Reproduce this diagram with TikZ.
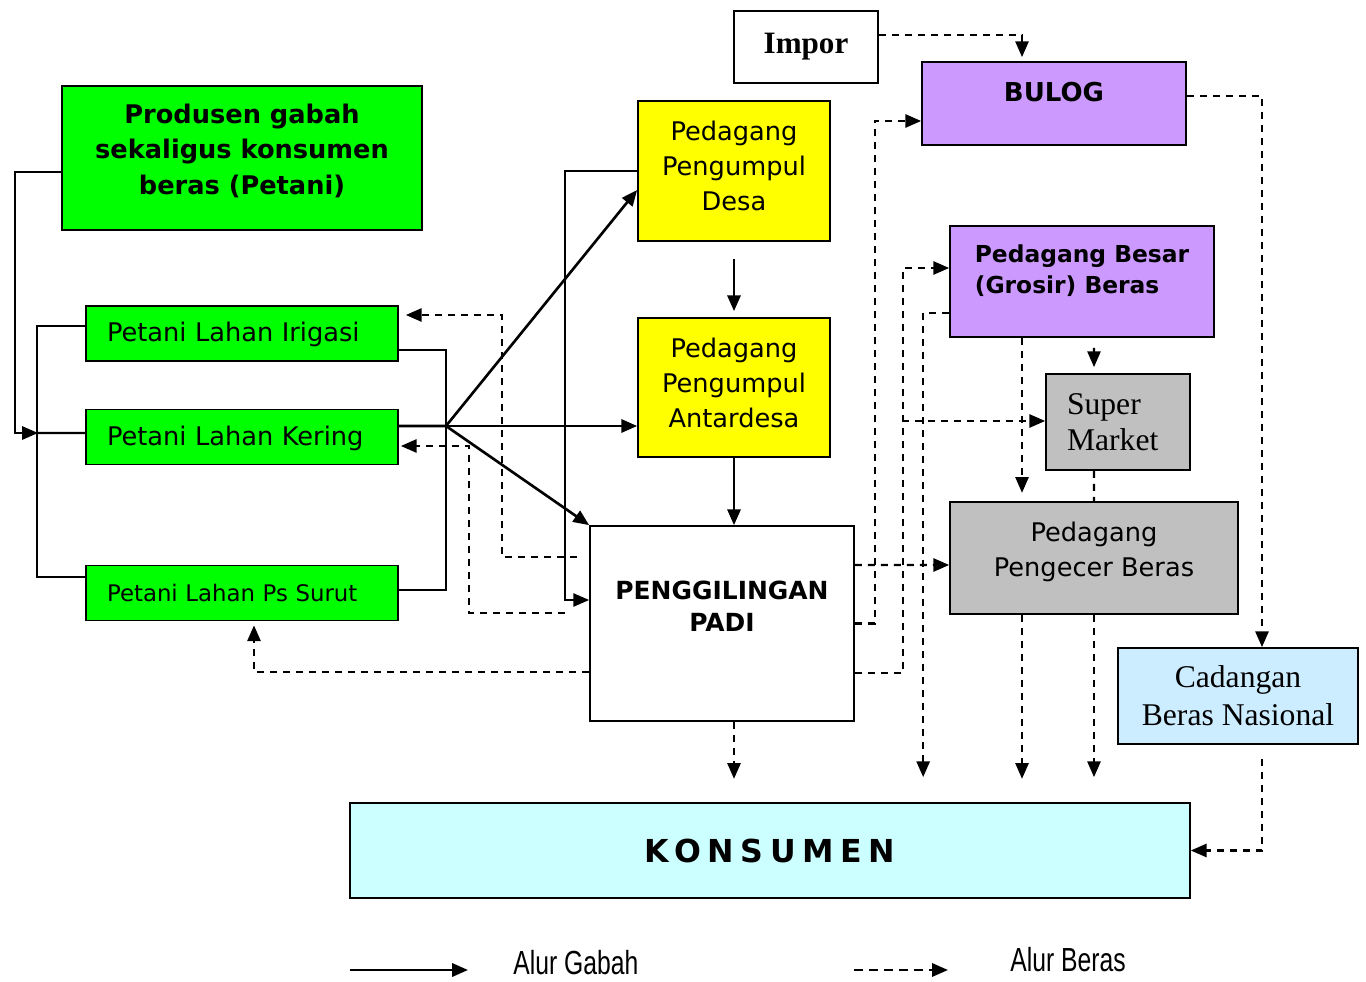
\documentclass[tikz,border=0pt]{standalone}
\usepackage{fontspec}
\setmainfont{DejaVu Sans}
\newfontfamily\timesfont{Liberation Serif}
\newfontfamily\narrowfont[FakeStretch=0.74]{Liberation Sans}
\usetikzlibrary{arrows.meta}

\definecolor{hijau}{HTML}{00FF00}
\definecolor{kuning}{HTML}{FFFF00}
\definecolor{ungu}{HTML}{CC99FF}
\definecolor{abu}{HTML}{C0C0C0}
\definecolor{birumuda}{HTML}{CCECFF}
\definecolor{cyanmuda}{HTML}{CCFFFF}

\begin{document}
\begin{tikzpicture}
[x=0.02cm, y=-0.02cm,
    >={Triangle[length=9pt,width=7.5pt]},
    font=\fontsize{14.6}{20}\selectfont,
    box/.style={rectangle, draw=black, line width=1pt, inner sep=0pt, align=center},
    petani/.style={box, fill=hijau, minimum width=6.24cm, minimum height=1.1cm,
        text width=5.4cm, inner xsep=0.42cm, align=left, text height=13pt, text depth=3.4pt},
    pedagang/.style={box, fill=kuning, minimum width=3.84cm, minimum height=2.8cm},
    gabah/.style={draw=black, line width=1.5pt},
    beras/.style={draw=black, line width=1.3pt, dash pattern=on 4pt off 3.4pt},
    ]
    \useasboundingbox (0,0) rectangle (1366,982);

    % boxes
    \node[box, minimum width=2.88cm, minimum height=1.44cm,
        font=\timesfont\bfseries\fontsize{17.7}{20}\selectfont] (impor) at (806,47) {Impor};
    \node[box, fill=ungu, minimum width=5.28cm, minimum height=1.66cm,
        font=\bfseries\fontsize{14.8}{20}\selectfont, text depth=13.7pt] (bulog) at (1054,103.5) {BULOG};
    \node[box, fill=hijau, minimum width=7.2cm, minimum height=2.88cm,
        font=\bfseries\fontsize{14.6}{20}\selectfont, text depth=10pt] (prod) at (242,158)
        {Produsen gabah\\sekaligus konsumen\\beras (Petani)};
    \node[pedagang, text depth=5.7pt] (desa) at (734,171) {Pedagang\\Pengumpul\\Desa};
    \node[box, fill=ungu, minimum width=5.28cm, minimum height=2.22cm, align=left,
        font=\bfseries\fontsize{13.3}{18}\selectfont, text depth=14pt] (grosir) at (1082,281.5)
        {Pedagang Besar\\(Grosir) Beras};
    \node[petani] (irigasi) at (242,333.5) {Petani Lahan Irigasi};
    \node[petani] (kering) at (242,437) {Petani Lahan Kering};
    \node[petani, font=\fontsize{13}{18}\selectfont] (surut) at (242,593) {Petani Lahan Ps Surut};
    \node[pedagang, minimum height=2.78cm, text depth=5pt] (antar) at (734,387.5) {Pedagang\\Pengumpul\\Antardesa};
    \node[box, fill=abu, minimum width=2.88cm, minimum height=1.92cm, text width=2.04cm,
        inner xsep=0.42cm, align=left, font=\timesfont\fontsize{18}{20.5}\selectfont] (super) at (1118,422) {Super\\Market};
    \node[box, fill=white, minimum width=5.28cm, minimum height=3.9cm,
        font=\bfseries\fontsize{14.2}{18}\selectfont, text depth=20pt] (pgl) at (722,623.5) {PENGGILINGAN\\PADI};
    \node[box, fill=abu, minimum width=5.76cm, minimum height=2.24cm, text depth=10pt] (ecer) at (1094,558)
        {Pedagang\\Pengecer Beras};
    \node[box, fill=birumuda, minimum width=4.8cm, minimum height=1.92cm,
        font=\timesfont\fontsize{18}{21.6}\selectfont] (cbn) at (1238,696) {Cadangan\\Beras Nasional};
    \node[box, fill=cyanmuda, minimum width=16.8cm, minimum height=1.9cm,
        font=\bfseries\fontsize{18}{20}\selectfont\addfontfeature{LetterSpace=21}] (kons) at (770,850.5) {KONSUMEN};

    % alur gabah
    \coordinate (jl) at (15,433);
    \coordinate (brk) at (38,433);
    \coordinate (fan) at (446,426);
    \draw[gabah,line width=1.2pt,->] ([yshift=-0.28cm]prod.west) -| (jl) -- (brk);
    \draw[gabah,line width=1.2pt] ([yshift=0.15cm]irigasi.west) -- ++(-0.96cm,0) |- ([yshift=0.32cm]surut.west);
    \draw[gabah,line width=1.2pt] ([yshift=0.08cm]kering.west) -- (brk);
    \draw[gabah,line width=1.2pt] ([yshift=-0.33cm]irigasi.east) -| (fan) |- ([yshift=0.06cm]surut.east);
    \draw[gabah] ([yshift=0.22cm]kering.east) -- (fan);
    \draw[gabah,->] (fan) -- ([yshift=-0.38cm]desa.west);
    \draw[gabah,->] (fan) -- (antar.west |- fan);
    \draw[gabah,->] (fan) -- (pgl.north west);
    \draw[gabah,line width=1.2pt,->] (desa.west) -- ++(-1.44cm,0) |- ([yshift=0.47cm]pgl.west);
    \draw[gabah,->] ([yshift=-0.34cm]desa.south) -- ([yshift=0.12cm]antar.north);
    \draw[gabah,->] (antar.south) -- (antar.south |- pgl.north);

    % alur beras
    \draw[beras,->] ([yshift=0.24cm]impor.east) -| ([xshift=-0.64cm,yshift=0.08cm]bulog.north);
    \draw[beras,->] ([yshift=0.15cm]bulog.east) -| ([xshift=0.48cm]cbn.north);
    \draw[beras,->] ([xshift=0.48cm,yshift=-0.28cm]cbn.south) |- (kons.east);
    \draw[beras,->] (pgl.east) -- ++(0.4cm,0) |- ([yshift=-0.35cm]bulog.west);
    \draw[beras,->] ([yshift=-0.99cm]pgl.east) -- ++(0.96cm,0) |- ([yshift=0.27cm]grosir.west);
    \coordinate (jsm) at (902,421);
    \draw[beras,->] (jsm) -- (super.west |- jsm);
    \draw[beras,->] ([yshift=-0.63cm]grosir.west) -- ++(-0.52cm,0) coordinate (gv) -- ([yshift=0.5cm]gv |- kons.north);
    \draw[beras,->] ([yshift=1.17cm]pgl.east) -- ([yshift=-0.14cm]ecer.west);
    \draw[beras,->] ([xshift=-1.2cm]grosir.south) -- ++(0,-3.1cm);
    \draw[gabah,line width=1.2pt,->] ([xshift=0.24cm,yshift=-0.2cm]grosir.south) -- ([xshift=-0.48cm,yshift=0.12cm]super.north);
    \draw[beras] ([xshift=-0.48cm]super.south) -- (ecer.north);
    \draw[beras,->] (ecer.south) -- ([yshift=0.5cm]ecer.south |- kons.north);
    \draw[beras,->] ([xshift=-1.44cm]ecer.south) -- ++(0,-3.28cm);
    \draw[beras,->] ([xshift=0.24cm]pgl.south) -- ++(0,-1.14cm);
    \draw[beras,->] ([xshift=-0.24cm,yshift=1.33cm]pgl.west) -- ++(-1.5cm,0) |- ([xshift=0.14cm,yshift=0.37cm]irigasi.east);
    \draw[beras,->] ([xshift=-0.48cm,yshift=0.21cm]pgl.west) -- ++(-1.92cm,0) |- ([xshift=0.04cm,yshift=-0.18cm]kering.east);
    \draw[beras,->] ([yshift=-0.97cm]pgl.west) -| ([xshift=0.24cm,yshift=-0.08cm]surut.south);

    % keterangan
    \coordinate (lga) at (350,970);
    \coordinate (lgb) at (468,970);
    \coordinate (lgc) at (854,970);
    \coordinate (lgd) at (948,970);
    \draw[gabah,->] (lga) -- (lgb);
    \draw[beras,dash pattern=on 5pt off 3.5pt,->] (lgc) -- (lgd);
    \node[anchor=west, inner sep=0pt, font=\narrowfont\fontsize{19}{22}\selectfont] (ketgabah) at (513,963) {Alur Gabah};
    \node[anchor=west, inner sep=0pt, font=\narrowfont\fontsize{19}{22}\selectfont] (ketberas) at (1010,960) {Alur Beras};
\end{tikzpicture}
\end{document}
